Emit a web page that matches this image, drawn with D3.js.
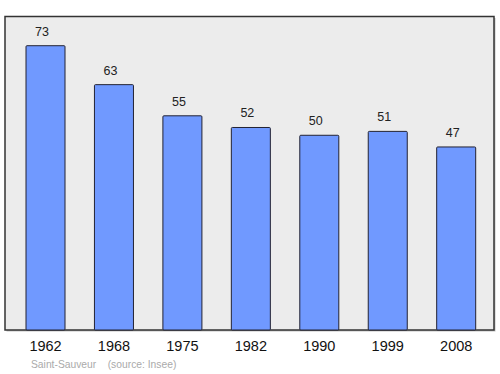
<!DOCTYPE html>
<html><head><meta charset="utf-8">
<script src="https://cdn.jsdelivr.net/npm/d3@7"></script>
<style>body{margin:0;background:#fff}svg{display:block}</style>
</head><body>
<svg id="c" width="500" height="374"></svg>
<script>
const years = ["1962","1968","1975","1982","1990","1999","2008"];
const population = [73,63,55,52,50,51,47];
const caption = "Saint-Sauveur    (source: Insee)";

const svg = d3.select("#c");
const L = 5, R = 494, T = 16.5, B = 330;
const FONT = "Liberation Sans, Arial, sans-serif";
const x = d3.scaleBand().domain(years).range([26, 475.7]).paddingInner(0.43).paddingOuter(0);
const y = d3.scaleLinear().domain([0, 80.5]).range([B, T]);

svg.append("rect").attr("x", L + 1.5).attr("y", T + 1.5).attr("width", R - L).attr("height", B - T)
  .attr("fill", "#999").attr("opacity", 0.6);
svg.append("rect").attr("x", L).attr("y", T).attr("width", R - L).attr("height", B - T)
  .attr("fill", "#ececec").attr("stroke", "#333").attr("stroke-width", 1.5);

const data = years.map((yr, i) => ({yr, v: population[i]}));
svg.selectAll("rect.bar").data(data).enter().append("rect").attr("class", "bar")
  .attr("x", d => x(d.yr)).attr("width", x.bandwidth())
  .attr("y", d => y(d.v)).attr("height", d => B - y(d.v))
  .attr("fill", "#7099ff").attr("stroke", "#223").attr("stroke-width", 1)
  .attr("rx", 1);

svg.selectAll("text.val").data(data).enter().append("text").attr("class", "val")
  .attr("x", d => x(d.yr) + x.bandwidth() / 2 - 3.5).attr("y", d => y(d.v) - 10)
  .attr("text-anchor", "middle").attr("font-family", FONT)
  .attr("font-size", 12.5).attr("fill", "#222").text(d => d.v);

const ax = svg.append("g").attr("transform", `translate(0,${B})`)
  .call(d3.axisBottom(x).tickSize(0).tickPadding(11));
ax.select(".domain").remove();
ax.selectAll("text").attr("font-family", FONT).attr("font-size", 14.5).attr("fill", "#111");

svg.append("text").attr("x", 31).attr("y", 368).attr("font-family", FONT)
  .attr("font-size", 10.3).attr("fill", "#aaa").attr("xml:space", "preserve").style("white-space", "pre").text(caption);
</script>
</body></html>
